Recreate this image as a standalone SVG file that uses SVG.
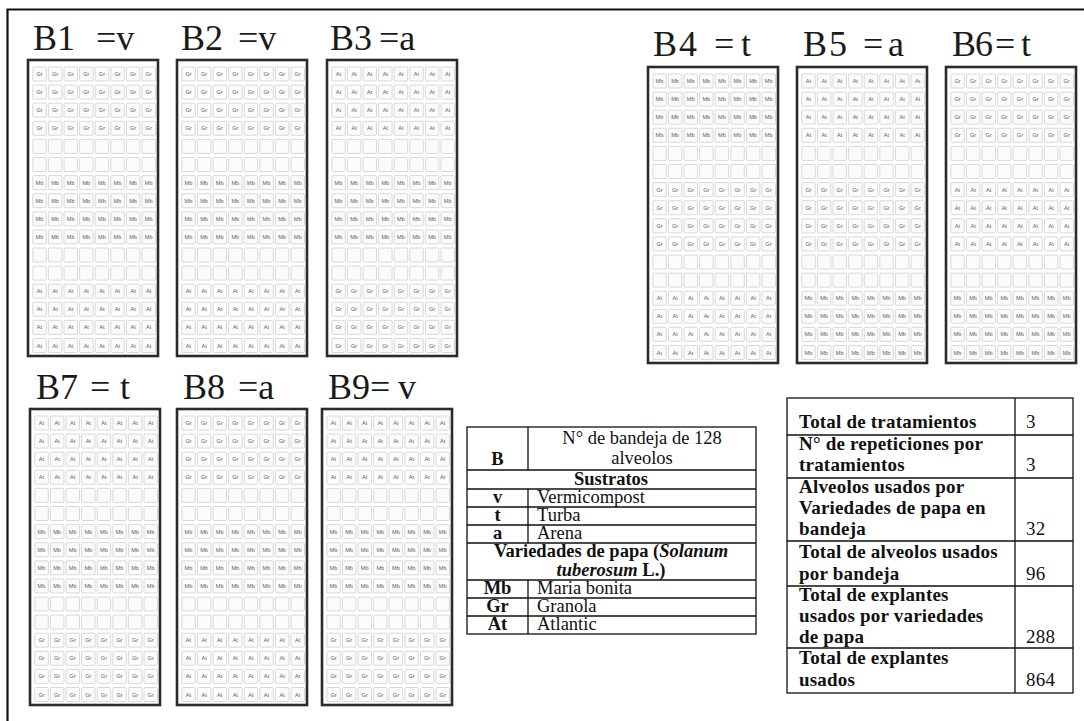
<svg xmlns="http://www.w3.org/2000/svg" xmlns:xlink="http://www.w3.org/1999/xlink" width="1084" height="721" viewBox="0 0 1084 721">
<style>
.bg{fill:#fff}
.frame{stroke:#111;stroke-width:2.2;fill:none}
.tray{fill:#fff;stroke:#2b2b2b;stroke-width:2.6}
.cell{fill:#fbfbfb;stroke:#cfcfcf;stroke-width:0.8}
.cl{font-family:"Liberation Sans",Arial,sans-serif;font-size:5.6px;fill:#5e5e5e;text-anchor:middle}
.title{font-family:"Liberation Serif","Times New Roman",serif;font-size:36px;fill:#1a1a1a}
.tb{fill:#fff;stroke:#111;stroke-width:1.3}
.ln{stroke:#111;stroke-width:1.3}
.t{font-family:"Liberation Serif","Times New Roman",serif;font-size:18.5px;fill:#111}
.s{font-size:19px;letter-spacing:0.2px}
.b{font-weight:bold}
.c{text-anchor:middle}
.i{font-style:italic}
</style>
<defs>
<g id="cells">
<rect class="cell" x="4.8" y="0" width="13.5" height="14" rx="1"/>
<rect class="cell" x="20.4" y="0" width="13.5" height="14" rx="1"/>
<rect class="cell" x="36" y="0" width="13.5" height="14" rx="1"/>
<rect class="cell" x="51.6" y="0" width="13.5" height="14" rx="1"/>
<rect class="cell" x="67.2" y="0" width="13.5" height="14" rx="1"/>
<rect class="cell" x="82.8" y="0" width="13.5" height="14" rx="1"/>
<rect class="cell" x="98.4" y="0" width="13.5" height="14" rx="1"/>
<rect class="cell" x="114" y="0" width="13.5" height="14" rx="1"/>
</g>
<g id="rGr"><use xlink:href="#cells"/><text class="cl" y="9"><tspan x="11.5">Gr</tspan><tspan x="27.1">Gr</tspan><tspan x="42.7">Gr</tspan><tspan x="58.3">Gr</tspan><tspan x="73.9">Gr</tspan><tspan x="89.5">Gr</tspan><tspan x="105.1">Gr</tspan><tspan x="120.7">Gr</tspan></text></g>
<g id="rMb"><use xlink:href="#cells"/><text class="cl" y="9"><tspan x="11.5">Mb</tspan><tspan x="27.1">Mb</tspan><tspan x="42.7">Mb</tspan><tspan x="58.3">Mb</tspan><tspan x="73.9">Mb</tspan><tspan x="89.5">Mb</tspan><tspan x="105.1">Mb</tspan><tspan x="120.7">Mb</tspan></text></g>
<g id="rAt"><use xlink:href="#cells"/><text class="cl" y="9"><tspan x="11.5">At</tspan><tspan x="27.1">At</tspan><tspan x="42.7">At</tspan><tspan x="58.3">At</tspan><tspan x="73.9">At</tspan><tspan x="89.5">At</tspan><tspan x="105.1">At</tspan><tspan x="120.7">At</tspan></text></g>
<g id="emp"><use xlink:href="#cells" y="0"/><use xlink:href="#cells" y="18.1"/></g>
<g id="bGr"><use xlink:href="#rGr" y="0"/><use xlink:href="#rGr" y="18.1"/><use xlink:href="#rGr" y="36.2"/><use xlink:href="#rGr" y="54.3"/></g>
<g id="bMb"><use xlink:href="#rMb" y="0"/><use xlink:href="#rMb" y="18.1"/><use xlink:href="#rMb" y="36.2"/><use xlink:href="#rMb" y="54.3"/></g>
<g id="bAt"><use xlink:href="#rAt" y="0"/><use xlink:href="#rAt" y="18.1"/><use xlink:href="#rAt" y="36.2"/><use xlink:href="#rAt" y="54.3"/></g>
<rect id="trayBox" class="tray" x="0" y="0" width="130" height="296"/>
</defs>
<rect class="bg" x="0" y="0" width="1084" height="721"/>
<path class="frame" d="M7.5,721 V9.5 H1084"/>

<g id="B1" transform="translate(28,60)">
<use xlink:href="#trayBox"/><use xlink:href="#bGr" y="7"/><use xlink:href="#emp" y="79.4"/><use xlink:href="#bMb" y="115.6"/><use xlink:href="#emp" y="188"/><use xlink:href="#bAt" y="224.2"/>
</g>
<text class="title" y="50"><tspan x="33">B1</tspan><tspan x="96">=v</tspan></text>

<g id="B2" transform="translate(177,60)">
<use xlink:href="#trayBox"/><use xlink:href="#bGr" y="7"/><use xlink:href="#emp" y="79.4"/><use xlink:href="#bMb" y="115.6"/><use xlink:href="#emp" y="188"/><use xlink:href="#bAt" y="224.2"/>
</g>
<text class="title" y="50"><tspan x="181">B2</tspan><tspan x="238">=v</tspan></text>

<g id="B3" transform="translate(327,60)">
<use xlink:href="#trayBox"/><use xlink:href="#bAt" y="7"/><use xlink:href="#emp" y="79.4"/><use xlink:href="#bMb" y="115.6"/><use xlink:href="#emp" y="188"/><use xlink:href="#bGr" y="224.2"/>
</g>
<text class="title" y="50"><tspan x="330">B3</tspan><tspan x="379">=a</tspan></text>

<g id="B4" transform="translate(648,67)">
<use xlink:href="#trayBox"/><use xlink:href="#bMb" y="7"/><use xlink:href="#emp" y="79.4"/><use xlink:href="#bGr" y="115.6"/><use xlink:href="#emp" y="188"/><use xlink:href="#bAt" y="224.2"/>
</g>
<text class="title" y="56"><tspan x="653">B</tspan><tspan x="679">4</tspan><tspan x="714">=</tspan><tspan x="741">t</tspan></text>

<g id="B5" transform="translate(797,67)">
<use xlink:href="#trayBox"/><use xlink:href="#bAt" y="7"/><use xlink:href="#emp" y="79.4"/><use xlink:href="#bGr" y="115.6"/><use xlink:href="#emp" y="188"/><use xlink:href="#bMb" y="224.2"/>
</g>
<text class="title" y="56"><tspan x="803">B</tspan><tspan x="829">5</tspan><tspan x="863">=</tspan><tspan x="888">a</tspan></text>

<g id="B6" transform="translate(946,67)">
<use xlink:href="#trayBox"/><use xlink:href="#bGr" y="7"/><use xlink:href="#emp" y="79.4"/><use xlink:href="#bAt" y="115.6"/><use xlink:href="#emp" y="188"/><use xlink:href="#bMb" y="224.2"/>
</g>
<text class="title" y="56"><tspan x="952">B</tspan><tspan x="975">6</tspan><tspan x="995">=</tspan><tspan x="1021">t</tspan></text>

<g id="B7" transform="translate(30,409)">
<use xlink:href="#trayBox"/><use xlink:href="#bAt" y="7"/><use xlink:href="#emp" y="79.4"/><use xlink:href="#bMb" y="115.6"/><use xlink:href="#emp" y="188"/><use xlink:href="#bGr" y="224.2"/>
</g>
<text class="title" y="399"><tspan x="36">B7</tspan><tspan x="90">=</tspan><tspan x="120">t</tspan></text>

<g id="B8" transform="translate(177,409)">
<use xlink:href="#trayBox"/><use xlink:href="#bGr" y="7"/><use xlink:href="#emp" y="79.4"/><use xlink:href="#bMb" y="115.6"/><use xlink:href="#emp" y="188"/><use xlink:href="#bAt" y="224.2"/>
</g>
<text class="title" y="399"><tspan x="183">B8</tspan><tspan x="238">=a</tspan></text>

<g id="B9" transform="translate(322,409)">
<use xlink:href="#trayBox"/><use xlink:href="#bAt" y="7"/><use xlink:href="#emp" y="79.4"/><use xlink:href="#bMb" y="115.6"/><use xlink:href="#emp" y="188"/><use xlink:href="#bGr" y="224.2"/>
</g>
<text class="title" y="399"><tspan x="328">B9=</tspan><tspan x="398">v</tspan></text>

<g id="legend">
<rect class="tb" x="467" y="427" width="289" height="207"/>
<path class="ln" d="M528,427V470 M467,470H756 M467,489H756 M528,489V543 M467,507H756 M467,525H756 M467,543H756 M467,580H756 M528,580V634 M467,598H756 M467,616H756"/>
<text class="t b c" x="497.5" y="465">B</text>
<text class="t c" x="642" y="444">N° de bandeja de 128</text>
<text class="t c" x="642" y="464">alveolos</text>
<text class="t b c" x="611" y="485">Sustratos</text>
<text class="t b c" x="497.5" y="503">v</text><text class="t" x="537" y="503">Vermicompost</text>
<text class="t b c" x="497.5" y="521">t</text><text class="t" x="537" y="521">Turba</text>
<text class="t b c" x="497.5" y="539">a</text><text class="t" x="537" y="539">Arena</text>
<text class="t b c" x="611" y="557">Variedades de papa (<tspan class="i">Solanum</tspan></text>
<text class="t b c" x="611" y="576"><tspan class="i">tuberosum</tspan> L.)</text>
<text class="t b c" x="497.5" y="594">Mb</text><text class="t" x="537" y="594">Maria bonita</text>
<text class="t b c" x="497.5" y="612">Gr</text><text class="t" x="537" y="612">Granola</text>
<text class="t b c" x="497.5" y="630">At</text><text class="t" x="537" y="630">Atlantic</text>
</g>

<g id="summary">
<rect class="tb" x="787" y="398" width="286" height="295"/>
<path class="ln" d="M1015,398V693 M787,435H1073 M787,478H1073 M787,541H1073 M787,586H1073 M787,648H1073"/>
<text class="t s b" x="799" y="428">Total de tratamientos</text><text class="t s" x="1026" y="428">3</text>
<text class="t s b" x="799" y="450">N° de repeticiones por</text>
<text class="t s b" x="799" y="471">tratamientos</text><text class="t s" x="1026" y="471">3</text>
<text class="t s b" x="799" y="493">Alveolos usados por</text>
<text class="t s b" x="799" y="514">Variedades de papa en</text>
<text class="t s b" x="799" y="535">bandeja</text><text class="t s" x="1026" y="535">32</text>
<text class="t s b" x="799" y="558">Total de alveolos usados</text>
<text class="t s b" x="799" y="580">por bandeja</text><text class="t s" x="1026" y="580">96</text>
<text class="t s b" x="799" y="601">Total de explantes</text>
<text class="t s b" x="799" y="622">usados por variedades</text>
<text class="t s b" x="799" y="643">de papa</text><text class="t s" x="1026" y="643">288</text>
<text class="t s b" x="799" y="664">Total de explantes</text>
<text class="t s b" x="799" y="686">usados</text><text class="t s" x="1026" y="686">864</text>
</g>
</svg>
